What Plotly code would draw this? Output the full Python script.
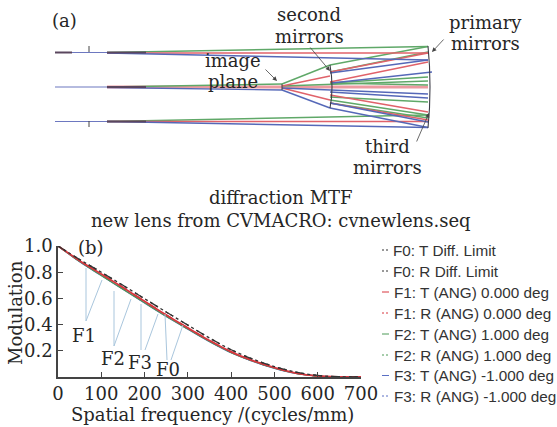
import plotly.graph_objects as go

W, H = 557, 427
SERIF = "DejaVu Serif"
SANS = "Liberation Sans"
TXT = "#262626"

# ---- MTF data -------------------------------------------------------
freq = [0, 50, 100, 150, 200, 250, 300, 350, 400, 450, 500, 550, 600, 650, 700]
f0_t = [1.0, .897, .800, .700, .598, .496, .396, .298, .208, .137, .080, .037, .012, .002, 0]
f0_r = [1.0, .897, .800, .700, .598, .496, .396, .298, .208, .137, .080, .037, .012, .002, 0]
f1_t = [1.0, .888, .786, .683, .578, .474, .375, .278, .192, .125, .071, .030, .008, .001, 0]
f1_r = [1.0, .889, .788, .685, .581, .476, .377, .280, .194, .127, .072, .031, .009, .001, 0]
f2_t = [1.0, .881, .775, .670, .566, .463, .366, .271, .186, .120, .067, .027, .007, .001, 0]
f2_r = [1.0, .883, .778, .674, .570, .467, .369, .274, .189, .122, .069, .028, .007, .001, 0]
f3_t = [1.0, .880, .774, .669, .565, .462, .365, .270, .185, .119, .066, .027, .007, .001, 0]
f3_r = [1.0, .882, .777, .673, .569, .466, .368, .273, .188, .121, .068, .028, .007, .001, 0]

mtf_names = ["F0: T Diff. Limit", "F0: R Diff. Limit", "F1: T (ANG) 0.000 deg", "F1: R (ANG) 0.000 deg",
             "F2: T (ANG) 1.000 deg", "F2: R (ANG) 1.000 deg", "F3: T (ANG) -1.000 deg", "F3: R (ANG) -1.000 deg"]
legend_rows = [250, 271, 292, 313, 334, 355, 375.5, 396]

# ---- Ray diagram segments (x1, y1, x2, y2) --------------------------
green_rays = [(107, 52.5, 428, 46.5), (428, 46.5, 330, 65), (428, 52, 330, 72), (330, 83, 428, 77),
              (330, 83, 428, 85), (330, 97, 428, 102), (330, 103, 428, 118), (107, 87, 282, 84),
              (282, 84, 330, 65), (282, 86, 428, 81), (107, 121.5, 428, 115), (428, 115, 330, 100)]
red_rays = [(107, 53, 428, 53), (428, 53, 330, 72), (428, 62, 330, 82), (330, 95, 428, 112),
            (330, 103, 428, 120), (282, 88, 330, 100), (282, 86, 330, 76), (107, 121.5, 428, 121.5)]
blue_rays = [(107, 53, 428, 60), (428, 60, 330, 73), (432, 72, 332, 83), (330, 92, 428, 98),
             (330, 108, 428, 127.5), (330, 103, 428, 122), (282, 90, 330, 108), (282, 88, 428, 94),
             (107, 87.5, 282, 90), (107, 121.5, 428, 127.5)]
pink_rays = [(107, 87, 428, 87)]
dark_bars = [(55, 52.5, 72, 52.5), (107, 52.5, 146, 52.5), (107, 87, 146, 87), (107, 121.5, 146, 121.5)]
thin_blue = [(55, 52.5, 107, 52.5), (55, 87, 107, 87), (55, 121.5, 107, 121.5)]
marks = [(89, 46, 89, 52), (89, 121, 89, 127), (282, 84, 282, 90)]
second_x = [330, 331.5, 332, 331.5, 330]
second_y = [65, 76, 87, 98, 108]
primary_x = [428, 429.5, 430, 429.5, 428]
primary_y = [46, 66, 87, 108, 128]

# ---- Leader lines ----------------------------------------------------
leaders = [(86, 321, 86, 268), (86, 321, 102, 280), (114, 346, 114, 291), (114, 346, 131, 299),
           (141, 350, 141, 304), (145, 350, 158, 314), (167, 360, 165, 314), (171, 360, 183, 325)]

fig = go.Figure()

def segs(seglist, color, width, opacity=1.0):
    xs, ys = [], []
    for a, b, c, d in seglist:
        xs += [a, c, None]
        ys += [b, d, None]
    fig.add_trace(go.Scatter(x=xs, y=ys, xaxis="x2", yaxis="y2", mode="lines", opacity=opacity,
                             line=dict(color=color, width=width), hoverinfo="skip", showlegend=False))

segs(thin_blue, "#6d78c0", 1.2)
segs(pink_rays, "#ec9aa0", 3)
segs(green_rays, "#5fa868", 1.4)
segs(red_rays, "#e0626a", 1.4)
segs(blue_rays, "#5568b8", 1.4)
segs(dark_bars, "#5a465e", 2)
segs(marks, "#444444", 1)
segs(leaders, "#a9c6dd", 1)
for xs, ys in ((second_x, second_y), (primary_x, primary_y)):
    fig.add_trace(go.Scatter(x=xs, y=ys, xaxis="x2", yaxis="y2", mode="lines",
                             line=dict(color="#3c3c46", width=1.1), hoverinfo="skip", showlegend=False))

# MTF curves
styles = [("#333333", "dot"), ("#333333", "dash"), ("#d8363f", "solid"), ("#d8363f", "dash"),
          ("#4c9a57", "solid"), ("#4c9a57", "dash"), ("#5a6fc4", "solid"), ("#5a6fc4", "dash")]
widths = [1.3, 1.3, 1.8, 1.2, 1.2, 1.2, 1.2, 1.2]
order = [6, 7, 4, 5, 2, 3, 0, 1]
series = [f0_t, f0_r, f1_t, f1_r, f2_t, f2_r, f3_t, f3_r]
for i in order:
    c, d = styles[i]
    fig.add_trace(go.Scatter(x=freq, y=series[i], mode="lines", name=mtf_names[i], showlegend=False,
                             line=dict(color=c, dash=d, width=widths[i], shape="spline")))

# legend samples
for (c, d), yy in zip(styles, legend_rows):
    fig.add_trace(go.Scatter(x=[382, 389], y=[yy, yy], xaxis="x2", yaxis="y2", mode="lines",
                             line=dict(color=c, width=1, dash="solid" if d == "solid" else "2px,2px"),
                             hoverinfo="skip", showlegend=False))

ann = []
def text(t, x, y, size=18, anchor="center", font=SERIF, color=TXT, angle=0):
    ann.append(dict(text=t, x=x, y=y, xref="x2", yref="y2", showarrow=False, xanchor=anchor, yanchor="middle",
                    textangle=angle, font=dict(family=font, size=size, color=color)))

text("(a)", 50, 20, anchor="left", size=18)
text("second", 309, 14); text("mirrors", 309, 36)
text("primary", 485, 22); text("mirrors", 485, 43)
text("image", 233, 60); text("plane", 233, 81)
text("third", 387, 146); text("mirrors", 387, 167)
text("diffraction MTF", 281, 197)
text("new lens from CVMACRO: cvnewlens.seq", 281, 220)
text("(b)", 76, 247, anchor="left")
text("Modulation", 15, 313, angle=-90)
text("Spatial frequency /(cycles/mm)", 212, 414)
text("F1", 84, 335); text("F2", 113, 358); text("F3", 140, 362); text("F0", 168, 369)

for name, yy in zip(mtf_names, legend_rows):
    text(name, 391 if name.startswith("F0") else 392, yy, size=15.3, anchor="left", font=SANS, color="#333333")

for ax, ay, x, y in [(264, 68, 277, 81), (309, 46, 330, 71), (445, 38, 432, 52), (416, 143, 429, 113)]:
    ann.append(dict(x=x, y=y, ax=ax, ay=ay, xref="x2", yref="y2", axref="x2", ayref="y2", text="",
                    showarrow=True, arrowhead=2, arrowsize=1.1, arrowwidth=0.8, arrowcolor="#444444"))

fig.update_layout(
    width=W, height=H, autosize=False, margin=dict(l=0, r=0, t=0, b=0, autoexpand=False),
    paper_bgcolor="white", plot_bgcolor="rgba(0,0,0,0)", showlegend=False, annotations=ann,
    xaxis=dict(domain=[58 / W, 361 / W], range=[0, 700], tickvals=list(range(0, 701, 100)), ticks="inside",
               ticklen=5, tickcolor="#444444", showgrid=False, zeroline=False, showline=True, linecolor="#444444",
               linewidth=1.5, anchor="y", automargin=False, tickfont=dict(family=SERIF, size=18, color=TXT)),
    yaxis=dict(domain=[1 - 377 / H, 1 - 246 / H], range=[0, 1], tickvals=[.2, .4, .6, .8, 1.0],
               ticktext=["0.2", "0.4", "0.6", "0.8", "1.0"], ticks="inside", ticklen=5, tickcolor="#444444",
               showgrid=False, zeroline=False, showline=True, linecolor="#444444", linewidth=1.5, anchor="x",
               automargin=False, tickfont=dict(family=SERIF, size=18, color=TXT)),
    xaxis2=dict(domain=[0, 1], range=[0, W], visible=False, anchor="y2", fixedrange=True, automargin=False),
    yaxis2=dict(domain=[0, 1], range=[H, 0], visible=False, anchor="x2", fixedrange=True, automargin=False),
)

fig.write_html("out.html", config={"displayModeBar": False}, post_script="document.body.style.margin='0';")
